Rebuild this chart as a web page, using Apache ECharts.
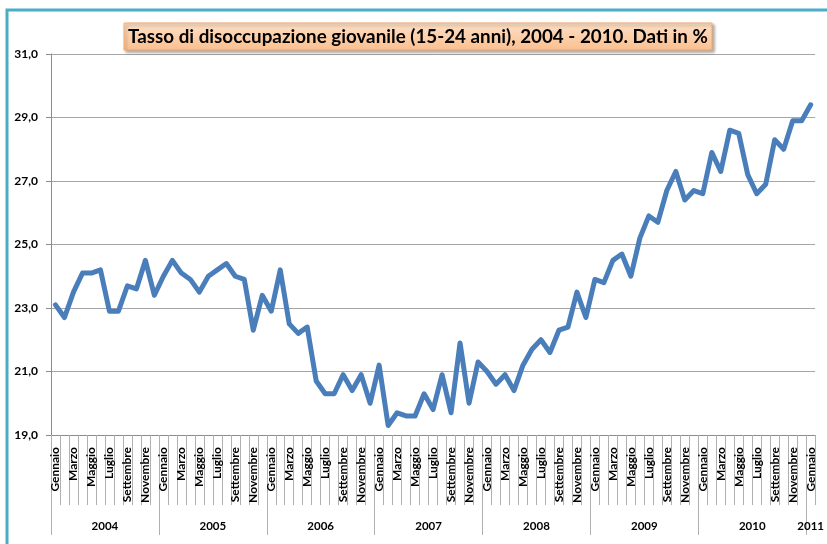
<!DOCTYPE html>
<html>
<head>
<meta charset="utf-8">
<script src="https://cdn.jsdelivr.net/npm/echarts@6/dist/echarts.min.js"></script>
<style>html,body{margin:0;padding:0;background:#fff;}#c{width:827px;height:544px;}</style>
</head>
<body>
<div id="c"></div>
<script>
const titleText = 'Tasso di disoccupazione giovanile (15-24 anni), 2004 - 2010. Dati in %';
const monthNames = ['Gennaio','Febbraio','Marzo','Aprile','Maggio','Giugno','Luglio','Agosto','Settembre','Ottobre','Novembre','Dicembre'];
const years = [2004, 2005, 2006, 2007, 2008, 2009, 2010, 2011];
const yTicks = [19, 21, 23, 25, 27, 29, 31];
const values2004 = [23.1, 22.7, 23.5, 24.1, 24.1, 24.2, 22.9, 22.9, 23.7, 23.6, 24.5, 23.4];
const values2005 = [24.0, 24.5, 24.1, 23.9, 23.5, 24.0, 24.2, 24.4, 24.0, 23.9, 22.3, 23.4];
const values2006 = [22.9, 24.2, 22.5, 22.2, 22.4, 20.7, 20.3, 20.3, 20.9, 20.4, 20.9, 20.0];
const values2007 = [21.2, 19.3, 19.7, 19.6, 19.6, 20.3, 19.8, 20.9, 19.7, 21.9, 20.0, 21.3];
const values2008 = [21.0, 20.6, 20.9, 20.4, 21.2, 21.7, 22.0, 21.6, 22.3, 22.4, 23.5, 22.7];
const values2009 = [23.9, 23.8, 24.5, 24.7, 24.0, 25.2, 25.9, 25.7, 26.7, 27.3, 26.4, 26.7];
const values2010 = [26.6, 27.9, 27.3, 28.6, 28.5, 27.2, 26.6, 26.9, 28.3, 28.0, 28.9, 28.9];
const values2011 = [29.4];

const values = [].concat(values2004, values2005, values2006, values2007, values2008, values2009, values2010, values2011);
const categories = values.map((v, i) => monthNames[i % 12]);
const yearBounds = years.map((y, k) => k * 12);
const yearCenters = years.map((y, k) => Math.min(k * 12 + 6, (k * 12 + values.length) / 2));

const chart = echarts.init(document.getElementById('c'));
const gray = '#8c8c8c';
const fam = 'Lato';
chart.setOption({
  animation: false,
  backgroundColor: '#fff',
  grid: { left: 51, right: 4, top: 54, bottom: 109, containLabel: false },
  graphic: [
    { type: 'rect', shape: { x: 7, y: 10, width: 900, height: 600 }, style: { fill: null, stroke: '#4bacc6', lineWidth: 3 }, z: 100 },
    { type: 'rect', shape: { x: 124, y: 23, width: 588, height: 27 },
      style: { fill: new echarts.graphic.LinearGradient(0, 0, 0, 1, [{offset: 0, color: '#fde0c8'}, {offset: 1, color: '#fbbf8e'}]),
        stroke: '#f8a96a', lineWidth: 1, shadowBlur: 3, shadowOffsetX: 2, shadowOffsetY: 2, shadowColor: 'rgba(0,0,0,0.35)' }, z: 100 },
    { type: 'text', x: 418, y: 37, style: { text: titleText, fill: '#000', font: 'bold 18.8px Lato', align: 'center', verticalAlign: 'middle' }, z: 101 }
  ],
  xAxis: [
    { type: 'category', data: categories, boundaryGap: true, position: 'bottom',
      axisLine: { show: true, lineStyle: { color: gray, width: 1 } },
      axisTick: { show: true, interval: 0, length: 70, lineStyle: { color: '#b0b0b0' } },
      axisLabel: { interval: 1, rotate: 90, margin: 12, color: '#000', fontFamily: fam, fontWeight: 'bold', fontSize: 12 },
      splitLine: { show: false } },
    { type: 'value', min: 0, max: values.length, position: 'bottom',
      axisLine: { show: false },
      axisTick: { show: true, customValues: yearBounds, length: 100, lineStyle: { color: '#b0b0b0' } },
      axisLabel: { customValues: yearCenters, margin: 85, color: '#000', fontFamily: fam, fontWeight: 'bold', fontSize: 11.5,
        formatter: v => String(years[Math.floor(v / 12)]) },
      splitLine: { show: false } }
  ],
  yAxis: {
    type: 'value', min: yTicks[0], max: yTicks[yTicks.length - 1], interval: 2,
    axisLine: { show: true, lineStyle: { color: gray } },
    axisTick: { show: true, length: 5, lineStyle: { color: gray } },
    axisLabel: { margin: 13, color: '#000', fontFamily: fam, fontWeight: 'bold', fontSize: 12,
      formatter: v => v.toFixed(1).replace('.', ',') },
    splitLine: { show: true, lineStyle: { color: '#a6a6a6', width: 1 } }
  },
  series: [{
    type: 'line', xAxisIndex: 0, data: values, symbol: 'none', smooth: false,
    lineStyle: { color: '#4a7ebb', width: 5, join: 'round', cap: 'round' }
  }]
});
</script>
</body>
</html>
